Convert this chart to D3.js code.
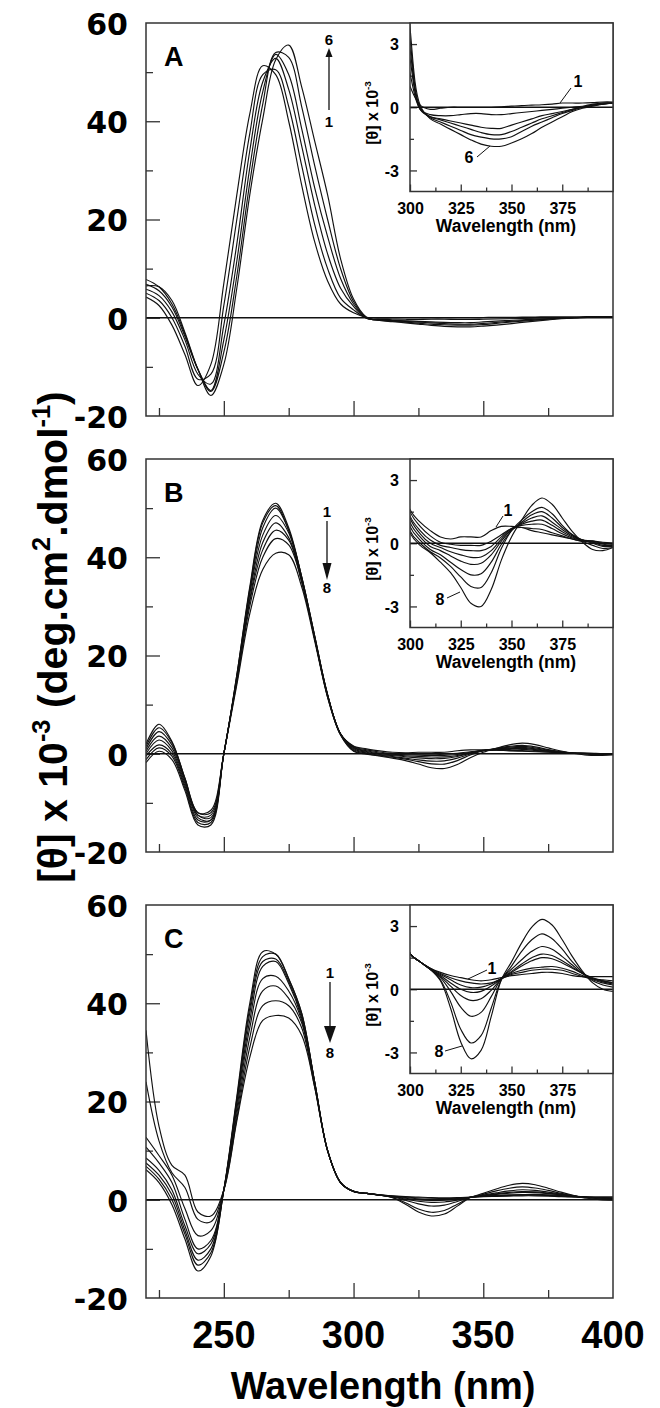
<!DOCTYPE html>
<html>
<head>
<meta charset="utf-8">
<script src="https://cdn.jsdelivr.net/npm/d3@7"></script>
<style>
  body { margin: 0; background: #fff; }
  svg { display: block; }
  .frame { fill: none; stroke: #333; stroke-width: 1.5; }
  .curve { fill: none; stroke: #111; stroke-width: 1.15; }
  .zero { stroke: #111; stroke-width: 1.5; }
  .tick line { stroke: #333; stroke-width: 1.3; }
</style>
</head>
<body>
<svg id="chart"></svg>
<script>
// Longitudes de onda comunes (nm) para todas las curvas
const wavelengths = [220, 225, 230, 235, 240, 245, 250, 255, 260, 265, 270, 275, 280, 285, 290, 295, 300,
  305, 310, 315, 320, 325, 330, 335, 340, 345, 350, 355, 360, 365, 370, 375, 380, 385, 390, 395, 400];

// Panel A: 6 espectros (valores x 10^-3)
const seriesA = [
  [4.2, 2.5, -1.5, -7.5, -13.8, -9.5, 7, 25, 41.5, 51.3, 49.5, 40, 27, 15.5, 7.5, 2.8, 1.0,
   0.1, -0.1, -0.05, 0, 0, 0, 0, 0, 0.02, 0.05, 0.08, 0.1, 0.12, 0.15, 0.2, 0.2, 0.2, 0.22, 0.25, 0.25],
  [5.0, 3.5, 0, -5.8, -12.5, -11.5, 2.5, 20, 37.5, 49.5, 50.5, 43, 31, 19, 10, 4, 1.6,
   -0.1, -0.35, -0.4, -0.4, -0.35, -0.3, -0.3, -0.35, -0.35, -0.3, -0.25, -0.2, -0.15, -0.1, -0.05, 0, 0.05, 0.15, 0.2, 0.2],
  [5.8, 4.5, 1.2, -4.5, -11.5, -13.5, -1.5, 15, 34, 48, 52.8, 46.5, 35, 23, 13, 6, 2.3,
   -0.1, -0.45, -0.55, -0.65, -0.75, -0.85, -0.95, -1.0, -1.0, -0.85, -0.7, -0.55, -0.4, -0.3, -0.2, -0.1, 0, 0.1, 0.2, 0.2],
  [6.8, 5.5, 2.2, -3.8, -10.5, -14.8, -4.5, 11.5, 30.5, 46, 53.6, 49.5, 38.5, 26.5, 16.5, 8, 2.8,
   -0.05, -0.45, -0.6, -0.75, -0.9, -1.05, -1.2, -1.3, -1.3, -1.15, -0.95, -0.75, -0.55, -0.4, -0.25, -0.1, 0, 0.1, 0.15, 0.2],
  [7.8, 6.3, 2.8, -3.3, -10.5, -15, -7, 8.5, 27.5, 43.5, 54, 53, 43, 31, 20, 10, 3.3,
   0, -0.5, -0.7, -0.9, -1.1, -1.3, -1.42, -1.5, -1.5, -1.4, -1.15, -0.9, -0.7, -0.5, -0.3, -0.15, 0, 0.1, 0.15, 0.2],
  [6.5, 6.3, 3.5, -3, -10.5, -15.8, -9.5, 6, 25, 40.5, 52.5, 55.5, 47, 36, 25, 12, 3.8,
   0.1, -0.55, -0.8, -1.05, -1.3, -1.55, -1.75, -1.85, -1.85, -1.7, -1.5, -1.25, -0.95, -0.7, -0.45, -0.2, -0.05, 0.05, 0.15, 0.2]
];

// Panel B: 8 espectros
const seriesB = [
  [2.0, 6.0, 2.5, -5, -12, -11.5, 0, 16, 34, 47.5, 51, 46, 36, 24, 12, 4, 1.6,
   1.0, 0.6, 0.3, 0.2, 0.3, 0.3, 0.3, 0.6, 0.8, 0.8, 0.75, 0.6, 0.5, 0.4, 0.3, 0.2, 0.1, 0.1, 0.0, 0.0],
  [1.5, 5.3, 2.3, -5, -12, -12, 0, 16, 33.5, 47, 50.5, 45.5, 36, 24, 12, 4, 1.5,
   0.8, 0.35, 0.05, -0.05, -0.1, -0.1, -0.1, 0.1, 0.4, 0.7, 0.75, 0.7, 0.65, 0.5, 0.35, 0.2, 0.1, 0.1, 0.05, 0.0],
  [1.0, 4.5, 1.8, -5.2, -12.5, -12.5, 0, 15.5, 33, 46, 50, 45.5, 36, 24, 12, 4, 1.3,
   0.6, 0.15, -0.1, -0.2, -0.3, -0.35, -0.35, -0.15, 0.3, 0.7, 0.85, 0.9, 0.9, 0.7, 0.45, 0.25, 0.15, 0.1, 0.0, -0.05],
  [0.5, 3.6, 1.2, -5.5, -12.5, -13, 0, 15.5, 32.5, 44.5, 48.5, 45, 35.5, 23.5, 12, 4, 1.2,
   0.45, 0.0, -0.2, -0.4, -0.55, -0.67, -0.65, -0.35, 0.2, 0.65, 0.9, 1.05, 1.1, 0.85, 0.55, 0.3, 0.15, 0.05, -0.05, -0.1],
  [0, 2.8, 0.6, -6, -13, -13.5, 0, 15, 31.5, 43, 47, 44, 35.5, 23.5, 11.8, 4, 1.0,
   0.3, -0.15, -0.35, -0.6, -0.85, -1.0, -0.95, -0.55, 0.1, 0.65, 0.95, 1.2, 1.3, 1.0, 0.65, 0.35, 0.15, 0.05, -0.1, -0.1],
  [-0.5, 1.8, 0, -6.5, -13.5, -13.5, 0, 15, 31, 41.5, 45.5, 43.5, 35, 23.5, 11.8, 4, 0.8,
   0.15, -0.3, -0.55, -0.9, -1.25, -1.5, -1.45, -0.9, -0.05, 0.6, 1.0, 1.35, 1.5, 1.2, 0.75, 0.4, 0.15, 0.0, -0.15, -0.15],
  [-1.2, 1.2, -0.5, -7, -14, -14, 0, 14.5, 30, 40, 43.8, 42.5, 35, 23.5, 11.5, 3.8, 0.6,
   0.0, -0.4, -0.7, -1.1, -1.6, -2.05, -2.1, -1.4, -0.25, 0.6, 1.1, 1.5, 1.7, 1.4, 0.85, 0.4, 0.1, -0.1, -0.25, -0.2],
  [-1.8, 0.5, -1.2, -7.5, -14.5, -14.5, 0, 14, 28.5, 37.5, 40.8, 40.5, 34, 23, 11.5, 3.8, 0.5,
   -0.1, -0.45, -0.9, -1.4, -2.1, -2.85, -3.0, -2.2, -0.8, 0.3, 1.1, 1.8, 2.15, 1.85, 1.2, 0.55, 0.05, -0.3, -0.35, -0.2]
];

// Panel C: 8 espectros
const seriesC = [
  [6.1, 3.5, -1, -8, -14.5, -11.5, 2, 21, 40, 50.5, 50, 45, 38, 24, 10, 3.5, 1.7,
   1.3, 1.0, 0.8, 0.65, 0.55, 0.45, 0.4, 0.45, 0.55, 0.65, 0.7, 0.75, 0.8, 0.8, 0.75, 0.65, 0.6, 0.6, 0.6, 0.6],
  [6.8, 4.2, 0, -7, -13.3, -10.8, 2, 20.5, 39, 49.5, 50, 45, 38, 24, 10, 3.5, 1.7,
   1.3, 1.0, 0.75, 0.55, 0.4, 0.3, 0.25, 0.3, 0.5, 0.7, 0.8, 0.9, 0.95, 0.95, 0.9, 0.75, 0.6, 0.5, 0.45, 0.4],
  [7.5, 5, 1, -6.2, -12.3, -10, 2, 20, 38, 48.5, 49, 44.5, 37.5, 24, 10, 3.5, 1.7,
   1.3, 0.95, 0.7, 0.45, 0.2, 0.08, 0.1, 0.25, 0.5, 0.75, 0.9, 1.0, 1.05, 1.08, 1.0, 0.85, 0.65, 0.5, 0.4, 0.3],
  [8.5, 6, 2, -5.3, -11, -9, 2, 19.5, 36.5, 47.5, 48.5, 44, 37, 24, 10, 3.5, 1.7,
   1.3, 0.95, 0.65, 0.3, 0.0, -0.15, -0.1, 0.15, 0.5, 0.8, 1.1, 1.35, 1.5, 1.45, 1.25, 1.0, 0.75, 0.55, 0.4, 0.3],
  [10.7, 7.5, 3.5, -4, -10, -8.3, 2, 18.5, 35, 45, 45.5, 42.5, 36.5, 23.5, 10, 3.5, 1.7,
   1.3, 0.95, 0.6, 0.15, -0.3, -0.53, -0.45, -0.05, 0.5, 0.85, 1.2, 1.5, 1.67, 1.6, 1.35, 1.05, 0.75, 0.5, 0.35, 0.25],
  [12.7, 9, 5, -1.8, -7.3, -6.3, 2, 17.5, 33, 42.5, 43.5, 41, 36, 23.5, 10, 3.5, 1.7,
   1.3, 0.95, 0.55, -0.1, -0.85, -1.28, -1.1, -0.35, 0.5, 0.95, 1.4, 1.8, 2.03, 1.9, 1.55, 1.15, 0.75, 0.45, 0.3, 0.2],
  [24, 12, 5.5, 2.5, -4, -4.5, 2, 16.5, 31, 39.5, 40.5, 39.5, 35, 23, 10, 3.5, 1.7,
   1.3, 0.95, 0.45, -0.6, -1.9, -2.55, -2.2, -0.9, 0.45, 1.1, 1.8, 2.35, 2.63, 2.4, 1.9, 1.3, 0.8, 0.4, 0.2, 0.1],
  [34.5, 15, 7, 5, -2.5, -3.3, 2, 16, 29, 36.5, 37.5, 37, 33.5, 23, 10, 3.5, 1.7,
   1.3, 0.95, 0.4, -0.9, -2.5, -3.3, -2.9, -1.3, 0.45, 1.3, 2.2, 2.95, 3.32, 3.05, 2.35, 1.55, 0.85, 0.3, 0.0, -0.1]
];

// Ticks
const mainYLabels = [-20, 0, 20, 40, 60];
const mainYMajor = [0, 20, 40];
const mainYMinor = [-10, 10, 30, 50];
const mainXLabels = [250, 300, 350, 400];
const mainXMajor = [250, 300, 350];
const mainXMinor = [225, 275, 325, 375];
const insetXLabels = [300, 325, 350, 375];
const insetXMinor = [312.5, 337.5, 362.5, 387.5];
const insetYLabels = [-3, 0, 3];
const insetYMinor = [-1.5, 1.5];

// Geometría
const W = 660, H = 1408;
const left = 146, right = 613, panelH = 393;
const insetL = 410, insetH = 168.5;
const boldFont = "'Liberation Sans', Arial, sans-serif";
const wideFont = "'DejaVu Sans', sans-serif";

const panels = [
  { id: "A", top: 23, data: seriesA,
    arrow: { x: 329, from: 110, to: 48, head: 3.5, headLen: 9, topLabel: "6", topY: 45, botLabel: "1", botY: 127 },
    notes: [ { t: "1", x: 578, y: 87, l: [571, 88, 560, 103] }, { t: "6", x: 469, y: 163, l: [477, 157, 490, 146] } ] },
  { id: "B", top: 459, data: seriesB,
    arrow: { x: 327, from: 521, to: 580, head: 4.5, headLen: 17, topLabel: "1", topY: 517, botLabel: "8", botY: 593 },
    notes: [ { t: "1", x: 508, y: 516, l: [503, 516, 496, 527] }, { t: "8", x: 440, y: 605, l: [447, 598, 460, 592] } ] },
  { id: "C", top: 905, data: seriesC,
    arrow: { x: 330, from: 982, to: 1043, head: 6, headLen: 17, topLabel: "1", topY: 978, botLabel: "8", botY: 1058 },
    notes: [ { t: "1", x: 492, y: 974, l: [487, 970, 468, 979] }, { t: "8", x: 439, y: 1057, l: [445, 1051, 462, 1046] } ] }
];

const svg = d3.select("#chart").attr("width", W).attr("height", H);
const defs = svg.append("defs");

const mainX = d3.scaleLinear().domain([220, 400]).range([left, right]);
const insetX = d3.scaleLinear().domain([300, 400]).range([insetL, right]);

// helper: texto con superíndices
function richText(sel, parts, fs) {
  let prevSup = false;
  parts.forEach(([str, sup]) => {
    const t = sel.append("tspan").text(str);
    if (sup) { t.attr("font-size", fs * 0.62).attr("dy", -fs * 0.42); prevSup = true; }
    else if (prevSup) { t.attr("dy", fs * 0.42); prevSup = false; }
  });
}

function ticks(g, axis, values, size, fmt) {
  const a = g.append("g").attr("class", "tick-group").call(axis.tickValues(values).tickSize(-size).tickFormat(fmt || ""));
  a.select(".domain").remove();
  return a;
}

panels.forEach((p, i) => {
  const bottom = p.top + panelH;
  const y = d3.scaleLinear().domain([-20, 60]).range([bottom, p.top]);
  const g = svg.append("g");

  defs.append("clipPath").attr("id", "clip" + p.id)
    .append("rect").attr("x", left).attr("y", p.top).attr("width", right - left).attr("height", panelH);

  // eje y principal
  const yg = g.append("g").attr("transform", `translate(${left},0)`);
  ticks(yg, d3.axisLeft(y), mainYMinor, 7);
  const yl = ticks(yg, d3.axisLeft(y).tickPadding(18), mainYLabels, 14, d => d);
  yl.selectAll(".tick").filter(d => d === -20 || d === 60).select("line").remove();
  yl.selectAll("text").attr("font-family", wideFont).attr("font-weight", "bold")
    .attr("font-size", 30).attr("fill", "#000").attr("dy", "0.38em");

  // eje x principal
  const xg = g.append("g").attr("transform", `translate(0,${bottom})`);
  ticks(xg, d3.axisBottom(mainX), mainXMinor, 8);
  ticks(xg, d3.axisBottom(mainX), mainXMajor, 15);
  if (p.id === "C") {
    const lab = xg.append("g");
    mainXLabels.forEach(v => {
      lab.append("text").attr("x", mainX(v)).attr("y", 50).attr("text-anchor", "middle")
        .attr("font-family", boldFont).attr("font-weight", "bold").attr("font-size", 38).text(v);
    });
  }

  // línea cero
  g.append("line").attr("class", "zero").attr("x1", left).attr("x2", right)
    .attr("y1", y(0)).attr("y2", y(0));

  // curvas
  const line = d3.line().x((d, k) => mainX(wavelengths[k])).y(d => y(d))
    .curve(d3.curveCatmullRom.alpha(0.5));
  g.append("g").attr("clip-path", `url(#clip${p.id})`)
    .selectAll("path").data(p.data).enter().append("path")
    .attr("class", "curve").attr("d", line);

  g.append("rect").attr("class", "frame").attr("x", left).attr("y", p.top)
    .attr("width", right - left).attr("height", panelH);

  // letra del panel
  g.append("text").attr("x", 164).attr("y", p.top + 43)
    .attr("font-family", boldFont).attr("font-weight", "bold").attr("font-size", 27).text(p.id);

  // flecha
  const a = p.arrow;
  const dir = a.to > a.from ? 1 : -1;
  g.append("line").attr("x1", a.x).attr("x2", a.x).attr("y1", a.from).attr("y2", a.to - dir * a.headLen)
    .attr("stroke", "#111").attr("stroke-width", 1.3);
  g.append("path").attr("fill", "#111")
    .attr("d", `M${a.x},${a.to} L${a.x - a.head},${a.to - dir * a.headLen} L${a.x + a.head},${a.to - dir * a.headLen} Z`);
  [[a.topLabel, a.topY], [a.botLabel, a.botY]].forEach(([t, yy]) => {
    g.append("text").attr("x", a.x).attr("y", yy).attr("text-anchor", "middle")
      .attr("font-family", boldFont).attr("font-weight", "bold").attr("font-size", 15).text(t);
  });

  // ---- inset ----
  const iTop = p.top, iBot = p.top + insetH;
  const iy = d3.scaleLinear().domain([-4, 4]).range([iBot, iTop]);
  const ig = svg.append("g");
  defs.append("clipPath").attr("id", "iclip" + p.id)
    .append("rect").attr("x", insetL).attr("y", iTop).attr("width", right - insetL).attr("height", insetH);

  ig.append("rect").attr("x", insetL).attr("y", iTop).attr("width", right - insetL).attr("height", insetH)
    .attr("fill", "#fff");

  const iyg = ig.append("g").attr("transform", `translate(${insetL},0)`);
  ticks(iyg, d3.axisLeft(iy), insetYMinor, 4);
  const iyl = ticks(iyg, d3.axisLeft(iy).tickPadding(11), insetYLabels, 7, d => d);
  iyl.selectAll("text").attr("font-family", boldFont).attr("font-weight", "bold")
    .attr("font-size", 16).attr("fill", "#000").attr("dy", "0.36em");

  const ixg = ig.append("g").attr("transform", `translate(0,${iBot})`);
  ticks(ixg, d3.axisBottom(insetX), insetXMinor, 4);
  const ixl = ticks(ixg, d3.axisBottom(insetX), insetXLabels, 7, d => d);
  ixl.selectAll("text").attr("font-family", boldFont).attr("font-weight", "bold")
    .attr("font-size", 16).attr("fill", "#000").attr("y", 22).attr("dy", 0);

  ig.append("text").attr("x", 506).attr("y", iBot + 40).attr("text-anchor", "middle")
    .attr("font-family", boldFont).attr("font-weight", "bold").attr("font-size", 17.5).text("Wavelength (nm)");

  const iyt = ig.append("text").attr("transform", `translate(378,${iTop + 90}) rotate(-90)`)
    .attr("text-anchor", "middle").attr("font-family", boldFont).attr("font-weight", "bold").attr("font-size", 16);
  richText(iyt, [["[θ] x 10", false], ["-3", true]], 16);

  ig.append("line").attr("class", "zero").attr("x1", insetL).attr("x2", right)
    .attr("y1", iy(0)).attr("y2", iy(0)).style("stroke-width", 1.3);

  const iline = d3.line().x((d, k) => insetX(wavelengths[k])).y(d => iy(d))
    .curve(d3.curveCatmullRom.alpha(0.5));
  ig.append("g").attr("clip-path", `url(#iclip${p.id})`)
    .selectAll("path").data(p.data).enter().append("path")
    .attr("class", "curve").attr("d", iline);

  ig.append("rect").attr("class", "frame").attr("x", insetL).attr("y", iTop)
    .attr("width", right - insetL).attr("height", insetH);

  p.notes.forEach(n => {
    ig.append("text").attr("x", n.x).attr("y", n.y).attr("text-anchor", "middle")
      .attr("font-family", boldFont).attr("font-weight", "bold").attr("font-size", 16).text(n.t);
    ig.append("line").attr("x1", n.l[0]).attr("y1", n.l[1]).attr("x2", n.l[2]).attr("y2", n.l[3])
      .attr("stroke", "#111").attr("stroke-width", 1);
  });
});

// títulos de ejes
svg.append("text").attr("x", 383).attr("y", 1399).attr("text-anchor", "middle")
  .attr("font-family", boldFont).attr("font-weight", "bold").attr("font-size", 38).text("Wavelength (nm)");

const yt = svg.append("text").attr("transform", "translate(67,637) rotate(-90)")
  .attr("text-anchor", "middle").attr("font-family", boldFont).attr("font-weight", "bold").attr("font-size", 41);
richText(yt, [["[θ] x 10", false], ["-3", true], [" (deg.cm", false], ["2", true], [".dmol", false], ["-1", true], [")", false]], 41);
</script>
</body>
</html>
